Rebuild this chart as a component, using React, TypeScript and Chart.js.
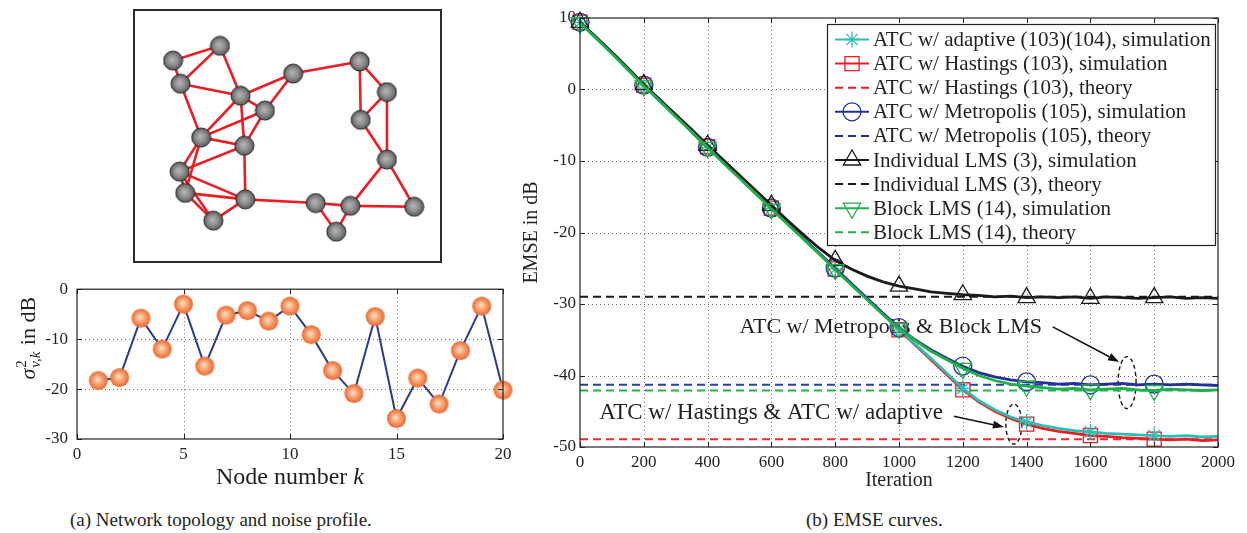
import React, { useEffect, useRef } from 'react';
import { Chart, registerables } from 'chart.js';

Chart.register(...registerables);

const FONT = '"Liberation Serif", "Times New Roman", Times, serif';
const TEXT = '#231f20';

// ---------------- (a) network topology ----------------
const nodeX = [82, 32, 40, 104, 160, 130, 62, 108, 39, 45, 75, 109, 231, 260, 232, 260, 289, 221, 184, 206];
const nodeY = [29, 45, 70, 83, 59, 99, 128, 137, 165, 188, 218, 195, 46, 79, 109, 152, 203, 202, 199, 230];
const edgeFrom = [2, 2, 3, 1, 3, 3, 4, 5, 4, 4, 4, 6, 6, 7, 7, 7, 8, 9, 9, 9, 10, 10, 11, 8, 12, 19, 19, 18, 18, 18, 16, 16, 16, 15, 15, 13, 13];
const edgeTo = [1, 3, 1, 4, 4, 7, 5, 6, 6, 7, 8, 8, 7, 8, 9, 10, 9, 10, 11, 12, 12, 11, 12, 12, 19, 18, 20, 20, 17, 16, 17, 14, 15, 13, 14, 14, 5];

// ---------------- (a) noise profile ----------------
const nodeNumbers = [1, 2, 3, 4, 5, 6, 7, 8, 9, 10, 11, 12, 13, 14, 15, 16, 17, 18, 19, 20];
const noiseDb = [-18.3, -17.7, -5.8, -12.0, -3.0, -15.4, -5.2, -4.3, -6.4, -3.4, -9.1, -16.3, -20.9, -5.5, -25.9, -17.8, -23.0, -12.3, -3.4, -20.2];
const noiseXTicks = [0, 5, 10, 15, 20];
const noiseYTicks = [-30, -20, -10, 0];

// ---------------- (b) EMSE curves ----------------
const iterations = [0, 50, 100, 150, 200, 250, 300, 350, 400, 450, 500, 550, 600, 650, 700, 750, 800, 850, 900, 950, 1000,
  1050, 1100, 1150, 1200, 1250, 1300, 1350, 1400, 1450, 1500, 1550, 1600, 1650, 1700, 1750, 1800, 1850, 1900, 1950, 2000];
const emseAdaptive = [9.4, 7.2, 5.1, 2.8, 0.6, -1.6, -3.7, -5.9, -8.1, -10.2, -12.3, -14.5, -16.6, -18.7, -20.8, -22.9, -25.1, -27.2, -29.3, -31.4, -33.5,
  -35.6, -37.6, -39.7, -41.8, -43.5, -44.8, -45.8, -46.5, -47.0, -47.4, -47.7, -47.9, -48.1, -48.2, -48.3, -48.4, -48.5, -48.4, -48.6, -48.5];
const emseHastings = [9.4, 7.3, 5.1, 2.9, 0.6, -1.5, -3.7, -5.8, -8.0, -10.2, -12.3, -14.4, -16.6, -18.7, -20.8, -23.0, -25.1, -27.2, -29.3, -31.4, -33.6,
  -35.7, -37.8, -39.9, -42.0, -43.7, -45.0, -46.0, -46.8, -47.4, -47.8, -48.1, -48.4, -48.5, -48.7, -48.8, -48.9, -49.0, -48.9, -49.1, -49.0];
const emseMetropolis = [9.4, 7.3, 5.1, 2.8, 0.6, -1.6, -3.7, -5.9, -8.1, -10.2, -12.3, -14.5, -16.6, -18.7, -20.8, -22.9, -25.0, -27.1, -29.2, -31.3, -33.3,
  -35.0, -36.4, -37.6, -38.7, -39.6, -40.2, -40.6, -40.9, -41.0, -41.2, -41.1, -41.3, -41.2, -41.1, -41.3, -41.2, -41.3, -41.2, -41.3, -41.4];
const emseIndividual = [9.4, 7.3, 5.2, 3.0, 0.7, -1.4, -3.5, -5.6, -7.8, -9.9, -12.0, -14.1, -16.2, -18.3, -20.3, -22.2, -23.9, -25.1, -26.1, -26.9, -27.5,
  -27.9, -28.3, -28.5, -28.7, -28.8, -29.0, -28.9, -29.1, -29.0, -29.1, -29.0, -29.2, -29.0, -29.1, -29.2, -29.1, -29.0, -29.2, -29.1, -29.2];
const emseBlock = [9.3, 7.2, 5.0, 2.8, 0.5, -1.6, -3.8, -5.9, -8.1, -10.3, -12.4, -14.5, -16.7, -18.8, -20.9, -23.0, -25.2, -27.3, -29.4, -31.5, -33.4,
  -35.1, -36.6, -37.8, -39.0, -40.0, -40.7, -41.2, -41.5, -41.7, -41.9, -41.8, -42.0, -41.9, -41.8, -42.0, -42.1, -41.9, -42.0, -42.1, -42.0];
const theoryHastings = -48.9;
const theoryMetropolis = -41.3;
const theoryIndividual = -29.0;
const theoryBlock = -42.1;
const emseXTicks = [0, 200, 400, 600, 800, 1000, 1200, 1400, 1600, 1800, 2000];
const emseYTicks = [-50, -40, -30, -20, -10, 0, 10];
const legendLabels = [
  'ATC w/ adaptive (103)(104), simulation',
  'ATC w/ Hastings (103), simulation',
  'ATC w/ Hastings (103), theory',
  'ATC w/ Metropolis (105), simulation',
  'ATC w/ Metropolis (105), theory',
  'Individual LMS (3), simulation',
  'Individual LMS (3), theory',
  'Block LMS (14), simulation',
  'Block LMS (14), theory',
];
const annotationTexts = ['ATC w/ Metropolis & Block LMS', 'ATC w/ Hastings & ATC w/ adaptive'];

const C_CYAN = '#2fbcb4';
const C_RED = '#ec1c24';
const C_BLUE = '#24309a';
const C_BLACK = '#1a1a1a';
const C_GREEN = '#1fb04b';

function makeSphere(radius: number, stops: [number, string][], stroke: string | null) {
  const size = Math.ceil(radius * 2 + 2);
  const c = document.createElement('canvas');
  c.width = size;
  c.height = size;
  const g = c.getContext('2d')!;
  const cx = size / 2, cy = size / 2;
  const grad = g.createRadialGradient(cx - radius * 0.12, cy - radius * 0.12, 0, cx, cy, radius);
  stops.forEach(([o, col]) => grad.addColorStop(o, col));
  g.beginPath();
  g.arc(cx, cy, radius, 0, Math.PI * 2);
  g.fillStyle = grad;
  g.fill();
  if (stroke) {
    g.lineWidth = 1;
    g.strokeStyle = stroke;
    g.stroke();
  }
  return c;
}

function line(ctx: CanvasRenderingContext2D, x1: number, y1: number, x2: number, y2: number) {
  ctx.beginPath();
  ctx.moveTo(x1, y1);
  ctx.lineTo(x2, y2);
  ctx.stroke();
}

function drawMarker(ctx: CanvasRenderingContext2D, style: string, x: number, y: number, r: number, color: string) {
  ctx.save();
  ctx.strokeStyle = color;
  ctx.lineWidth = 1.3;
  ctx.setLineDash([]);
  ctx.beginPath();
  if (style === 'star') {
    for (let k = 0; k < 4; k++) {
      const a = (k * Math.PI) / 4;
      ctx.moveTo(x + Math.cos(a) * r, y + Math.sin(a) * r);
      ctx.lineTo(x - Math.cos(a) * r, y - Math.sin(a) * r);
    }
  } else if (style === 'rect') {
    const s = r * Math.SQRT1_2;
    ctx.rect(x - s, y - s, 2 * s, 2 * s);
  } else if (style === 'circle') {
    ctx.arc(x, y, r, 0, Math.PI * 2);
  } else if (style === 'triangle' || style === 'triangleDown') {
    const sgn = style === 'triangle' ? 1 : -1;
    for (let k = 0; k < 3; k++) {
      const a = (k * 2 * Math.PI) / 3;
      const px = x + Math.sin(a) * r;
      const py = y - Math.cos(a) * r * sgn;
      if (k === 0) ctx.moveTo(px, py);
      else ctx.lineTo(px, py);
    }
    ctx.closePath();
  }
  ctx.stroke();
  ctx.restore();
}

function drawBoxAndTicks(ctx: CanvasRenderingContext2D, chart: any, xt: number[], yt: number[], len: number) {
  const a = chart.chartArea;
  const x = chart.scales.x;
  const y = chart.scales.y;
  ctx.save();
  ctx.strokeStyle = '#222';
  ctx.lineWidth = 1.2;
  ctx.setLineDash([]);
  ctx.strokeRect(a.left, a.top, a.right - a.left, a.bottom - a.top);
  ctx.lineWidth = 1;
  for (const t of xt) {
    const px = Math.round(x.getPixelForValue(t)) + 0.5;
    line(ctx, px, a.bottom, px, a.bottom - len);
    line(ctx, px, a.top, px, a.top + len);
  }
  for (const t of yt) {
    const py = Math.round(y.getPixelForValue(t)) + 0.5;
    line(ctx, a.left, py, a.left + len, py);
    line(ctx, a.right, py, a.right - len, py);
  }
  ctx.restore();
}

function drawDottedGrid(ctx: CanvasRenderingContext2D, chart: any, xt: number[], yt: number[]) {
  const a = chart.chartArea;
  const x = chart.scales.x;
  const y = chart.scales.y;
  ctx.save();
  ctx.strokeStyle = '#6f6f6f';
  ctx.lineWidth = 1;
  ctx.setLineDash([1, 3]);
  for (const t of xt) {
    const px = Math.round(x.getPixelForValue(t)) + 0.5;
    if (px > a.left + 1 && px < a.right - 1) line(ctx, px, a.top, px, a.bottom);
  }
  for (const t of yt) {
    const py = Math.round(y.getPixelForValue(t)) + 0.5;
    if (py > a.top + 1 && py < a.bottom - 1) line(ctx, a.left, py, a.right, py);
  }
  ctx.restore();
}

function tickOpts(step: number, pad: number) {
  return {
    stepSize: step,
    autoSkip: false,
    maxRotation: 0,
    padding: pad,
    color: TEXT,
    font: { family: FONT, size: 17 },
    callback: (v: any) => String(v),
  };
}

// ---------------- chart builders ----------------
function buildTopology(canvas: HTMLCanvasElement) {
  const sphere = makeSphere(9.5, [[0, '#b8b8b8'], [0.55, '#8e8e8e'], [1, '#5a5a5a']], '#262626');
  const edgeSets = edgeFrom.map((f, i) => ({
    data: [
      { x: nodeX[f - 1], y: nodeY[f - 1] },
      { x: nodeX[edgeTo[i] - 1], y: nodeY[edgeTo[i] - 1] },
    ],
    showLine: true,
    borderColor: '#ec1c24',
    borderWidth: 2.6,
    pointRadius: 0,
    order: 5,
  }));
  const nodes = {
    data: nodeX.map((vx, i) => ({ x: vx, y: nodeY[i] })),
    showLine: false,
    pointStyle: sphere,
    pointRadius: 9,
    order: 0,
  };
  const boxPlugin = {
    id: 'topoBox',
    afterDraw(chart: any) {
      const ctx = chart.ctx;
      ctx.save();
      ctx.strokeStyle = '#2b2b2b';
      ctx.lineWidth = 2;
      ctx.strokeRect(1, 1, chart.width - 2, chart.height - 2);
      ctx.restore();
    },
  };
  return new Chart(canvas, {
    type: 'scatter',
    data: { datasets: [...edgeSets, nodes] as any },
    options: {
      responsive: false,
      animation: false,
      devicePixelRatio: 1,
      events: [],
      layout: { padding: 0 },
      plugins: { legend: { display: false }, tooltip: { enabled: false } },
      scales: {
        x: { display: false, min: 0, max: 308 },
        y: { display: false, min: 0, max: 253, reverse: true },
      },
    },
    plugins: [boxPlugin],
  });
}

function buildNoise(canvas: HTMLCanvasElement) {
  const ball = makeSphere(9.5, [[0, '#fde4ca'], [0.35, '#f9b588'], [0.8, '#f27d46'], [1, '#ea6a36']], null);
  const decor = {
    id: 'noiseDecor',
    beforeDatasetsDraw(chart: any) {
      drawDottedGrid(chart.ctx, chart, noiseXTicks, noiseYTicks);
    },
    afterDatasetsDraw(chart: any) {
      drawBoxAndTicks(chart.ctx, chart, noiseXTicks, noiseYTicks, 5);
    },
    afterDraw(chart: any) {
      const ctx: CanvasRenderingContext2D = chart.ctx;
      const a = chart.chartArea;
      ctx.save();
      ctx.fillStyle = TEXT;
      ctx.textBaseline = 'middle';
      ctx.font = `24px ${FONT}`;
      const t1 = 'Node number ';
      const w1 = ctx.measureText(t1).width;
      ctx.font = `italic 24px ${FONT}`;
      const w2 = ctx.measureText('k').width;
      const cx = (a.left + a.right) / 2;
      const sx = cx - (w1 + w2) / 2;
      ctx.font = `24px ${FONT}`;
      ctx.textAlign = 'left';
      ctx.fillText(t1, sx, a.bottom + 39);
      ctx.font = `italic 24px ${FONT}`;
      ctx.fillText('k', sx + w1, a.bottom + 39);
      ctx.translate(28, a.top + 49);
      ctx.rotate(-Math.PI / 2);
      ctx.textBaseline = 'alphabetic';
      ctx.font = `italic 22px ${FONT}`;
      const ws = ctx.measureText('σ').width;
      ctx.font = `15px ${FONT}`;
      const wsup = ctx.measureText('2').width;
      ctx.font = `italic 15px ${FONT}`;
      const wsub = ctx.measureText('v,k').width;
      ctx.font = `22px ${FONT}`;
      const wr = ctx.measureText(' in dB').width;
      const total = ws + Math.max(wsup, wsub) + 2 + wr;
      let px = -total / 2;
      const base = 7;
      ctx.font = `italic 22px ${FONT}`;
      ctx.fillText('σ', px, base);
      px += ws + 1;
      ctx.font = `15px ${FONT}`;
      ctx.fillText('2', px, base - 9);
      ctx.font = `italic 15px ${FONT}`;
      ctx.fillText('v,k', px, base + 5);
      px += Math.max(wsup, wsub) + 1;
      ctx.font = `22px ${FONT}`;
      ctx.fillText(' in dB', px, base);
      ctx.restore();
    },
  };
  return new Chart(canvas, {
    type: 'line',
    data: {
      datasets: [
        {
          data: nodeNumbers.map((n, i) => ({ x: n, y: noiseDb[i] })),
          borderColor: '#2b3a94',
          borderWidth: 2,
          pointStyle: ball as any,
          pointRadius: 9,
          clip: false as any,
        },
      ],
    },
    options: {
      responsive: false,
      animation: false,
      devicePixelRatio: 1,
      events: [],
      layout: { padding: { top: 15, right: 17, left: 0, bottom: 0 } },
      plugins: { legend: { display: false }, tooltip: { enabled: false } },
      scales: {
        x: {
          type: 'linear',
          min: 0,
          max: 20,
          ticks: tickOpts(5, 5) as any,
          grid: { display: false, drawTicks: false },
          border: { display: false },
          afterFit: (s: any) => { s.height = 61; },
        },
        y: {
          min: -30,
          max: 0,
          ticks: tickOpts(10, 9) as any,
          grid: { display: false, drawTicks: false },
          border: { display: false },
          afterFit: (s: any) => { s.width = 77; },
        },
      },
    },
    plugins: [decor],
  });
}

function buildEmse(canvas: HTMLCanvasElement) {
  const markerAt = (r: number) => (c: any) => (c.dataIndex % 4 === 0 && c.dataIndex < 40 ? r : 0);
  const sim = (vals: number[], color: string, style: string, r: number, order: number, rot = 0) => ({
    data: iterations.map((it, i) => ({ x: it, y: vals[i] })),
    borderColor: color,
    borderWidth: 2.8,
    pointStyle: style,
    pointRotation: rot,
    pointRadius: markerAt(r),
    pointBorderColor: color,
    pointBackgroundColor: 'rgba(0,0,0,0)',
    pointBorderWidth: 1.3,
    order,
    clip: false,
  });
  const theory = (v: number, color: string) => ({
    data: [{ x: 0, y: v }, { x: 2000, y: v }],
    borderColor: color,
    borderWidth: 2,
    borderDash: [8, 5],
    pointRadius: 0,
    order: 20,
  });
  const legendItems = [
    { color: C_CYAN, dash: false, marker: 'star', r: 8 },
    { color: C_RED, dash: false, marker: 'rect', r: 10 },
    { color: C_RED, dash: true, marker: '', r: 0 },
    { color: C_BLUE, dash: false, marker: 'circle', r: 9 },
    { color: C_BLUE, dash: true, marker: '', r: 0 },
    { color: C_BLACK, dash: false, marker: 'triangle', r: 10 },
    { color: C_BLACK, dash: true, marker: '', r: 0 },
    { color: C_GREEN, dash: false, marker: 'triangleDown', r: 10 },
    { color: C_GREEN, dash: true, marker: '', r: 0 },
  ];
  const decor = {
    id: 'emseDecor',
    beforeDatasetsDraw(chart: any) {
      const ctx: CanvasRenderingContext2D = chart.ctx;
      const x = chart.scales.x;
      const y = chart.scales.y;
      drawDottedGrid(ctx, chart, emseXTicks, emseYTicks);
      ctx.save();
      ctx.fillStyle = TEXT;
      ctx.textBaseline = 'middle';
      ctx.textAlign = 'left';
      ctx.font = `22px ${FONT}`;
      ctx.fillText(annotationTexts[0], x.getPixelForValue(500), y.getPixelForValue(-33.2));
      ctx.font = `23px ${FONT}`;
      ctx.fillText(annotationTexts[1], x.getPixelForValue(60), y.getPixelForValue(-45.3));
      ctx.strokeStyle = '#111';
      ctx.lineWidth = 1.4;
      ctx.setLineDash([4, 3]);
      ctx.beginPath();
      ctx.ellipse(x.getPixelForValue(1715), y.getPixelForValue(-41.0), 9, 26, 0, 0, Math.PI * 2);
      ctx.stroke();
      ctx.beginPath();
      ctx.ellipse(x.getPixelForValue(1360), y.getPixelForValue(-46.8), 8, 20, 0, 0, Math.PI * 2);
      ctx.stroke();
      ctx.setLineDash([]);
      const arrow = (i1: number, d1: number, i2: number, d2: number) => {
        const x1 = x.getPixelForValue(i1), y1 = y.getPixelForValue(d1);
        const x2 = x.getPixelForValue(i2), y2 = y.getPixelForValue(d2);
        const ang = Math.atan2(y2 - y1, x2 - x1);
        const hl = 11, hw = 4;
        const bx = x2 - Math.cos(ang) * hl, by = y2 - Math.sin(ang) * hl;
        ctx.lineWidth = 1.6;
        line(ctx, x1, y1, bx, by);
        ctx.fillStyle = '#111';
        ctx.beginPath();
        ctx.moveTo(x2, y2);
        ctx.lineTo(bx - Math.sin(ang) * hw, by + Math.cos(ang) * hw);
        ctx.lineTo(bx + Math.sin(ang) * hw, by - Math.cos(ang) * hw);
        ctx.closePath();
        ctx.fill();
      };
      arrow(1482, -33.2, 1690, -38.1);
      arrow(1172, -45.7, 1329, -47.2);
      ctx.restore();
    },
    afterDatasetsDraw(chart: any) {
      drawBoxAndTicks(chart.ctx, chart, emseXTicks, emseYTicks, 5);
    },
    afterDraw(chart: any) {
      const ctx: CanvasRenderingContext2D = chart.ctx;
      const a = chart.chartArea;
      ctx.save();
      ctx.fillStyle = TEXT;
      ctx.font = `20px ${FONT}`;
      ctx.textAlign = 'center';
      ctx.textBaseline = 'middle';
      ctx.fillText('Iteration', (a.left + a.right) / 2, a.bottom + 34);
      ctx.save();
      ctx.translate(a.left - 48, (a.top + a.bottom) / 2);
      ctx.rotate(-Math.PI / 2);
      ctx.fillText('EMSE in dB', 0, 0);
      ctx.restore();
      const L = a.left + 247, T = a.top + 6, R = a.right - 3, B = a.top + 227;
      ctx.fillStyle = '#fff';
      ctx.fillRect(L, T, R - L, B - T);
      ctx.strokeStyle = '#222';
      ctx.lineWidth = 1.2;
      ctx.strokeRect(L + 0.5, T + 0.5, R - L, B - T);
      legendItems.forEach((it, i) => {
        const cy = T + 15.5 + i * 24.1;
        ctx.strokeStyle = it.color;
        ctx.lineWidth = 2;
        ctx.setLineDash(it.dash ? [8, 5] : []);
        line(ctx, L + 8, cy, L + 42, cy);
        ctx.setLineDash([]);
        if (it.marker) drawMarker(ctx, it.marker, L + 25, cy, it.r, it.color);
        ctx.fillStyle = TEXT;
        ctx.font = `21px ${FONT}`;
        ctx.textAlign = 'left';
        ctx.textBaseline = 'middle';
        ctx.fillText(legendLabels[i], L + 46, cy + 1);
      });
      ctx.restore();
    },
  };
  return new Chart(canvas, {
    type: 'line',
    data: {
      datasets: [
        sim(emseIndividual, C_BLACK, 'triangle', 10, 3),
        sim(emseMetropolis, C_BLUE, 'circle', 9, 4),
        sim(emseBlock, C_GREEN, 'triangle', 10, 2, 180),
        sim(emseHastings, C_RED, 'rect', 10, 6),
        sim(emseAdaptive, C_CYAN, 'star', 8, 5),
        theory(theoryHastings, '#ee2a2a'),
        theory(theoryMetropolis, '#2a3cb0'),
        theory(theoryIndividual, C_BLACK),
        theory(theoryBlock, '#22b14c'),
      ] as any,
    },
    options: {
      responsive: false,
      animation: false,
      devicePixelRatio: 1,
      events: [],
      layout: { padding: { top: 18, right: 29, left: 0, bottom: 0 } },
      plugins: { legend: { display: false }, tooltip: { enabled: false } },
      scales: {
        x: {
          type: 'linear',
          min: 0,
          max: 2000,
          ticks: tickOpts(200, 5) as any,
          grid: { display: false, drawTicks: false },
          border: { display: false },
          afterFit: (s: any) => { s.height = 53; },
        },
        y: {
          min: -50,
          max: 10,
          ticks: tickOpts(10, 4) as any,
          grid: { display: false, drawTicks: false },
          border: { display: false },
          afterFit: (s: any) => { s.width = 60; },
        },
      },
    },
    plugins: [decor],
  });
}

export default function App() {
  const topoRef = useRef<HTMLCanvasElement>(null);
  const noiseRef = useRef<HTMLCanvasElement>(null);
  const emseRef = useRef<HTMLCanvasElement>(null);

  useEffect(() => {
    const charts: Chart[] = [];
    if (topoRef.current) charts.push(buildTopology(topoRef.current));
    if (noiseRef.current) charts.push(buildNoise(noiseRef.current));
    if (emseRef.current) charts.push(buildEmse(emseRef.current));
    return () => charts.forEach((c) => c.destroy());
  }, []);

  const caption: React.CSSProperties = {
    position: 'absolute',
    top: 508,
    fontFamily: FONT,
    fontSize: 19,
    color: TEXT,
    whiteSpace: 'nowrap',
    lineHeight: '24px',
  };

  return (
    <div style={{ position: 'fixed', left: 0, top: 0, width: 1247, height: 533, background: '#fff', overflow: 'hidden' }}>
      <canvas ref={topoRef} width={309} height={254} style={{ position: 'absolute', left: 133, top: 9 }} />
      <canvas ref={noiseRef} width={520} height={230} style={{ position: 'absolute', left: 0, top: 270 }} />
      <canvas ref={emseRef} width={727} height={500} style={{ position: 'absolute', left: 520, top: 0 }} />
      <div style={{ ...caption, left: 70 }}>(a) Network topology and noise profile.</div>
      <div style={{ ...caption, left: 806 }}>(b) EMSE curves.</div>
    </div>
  );
}
